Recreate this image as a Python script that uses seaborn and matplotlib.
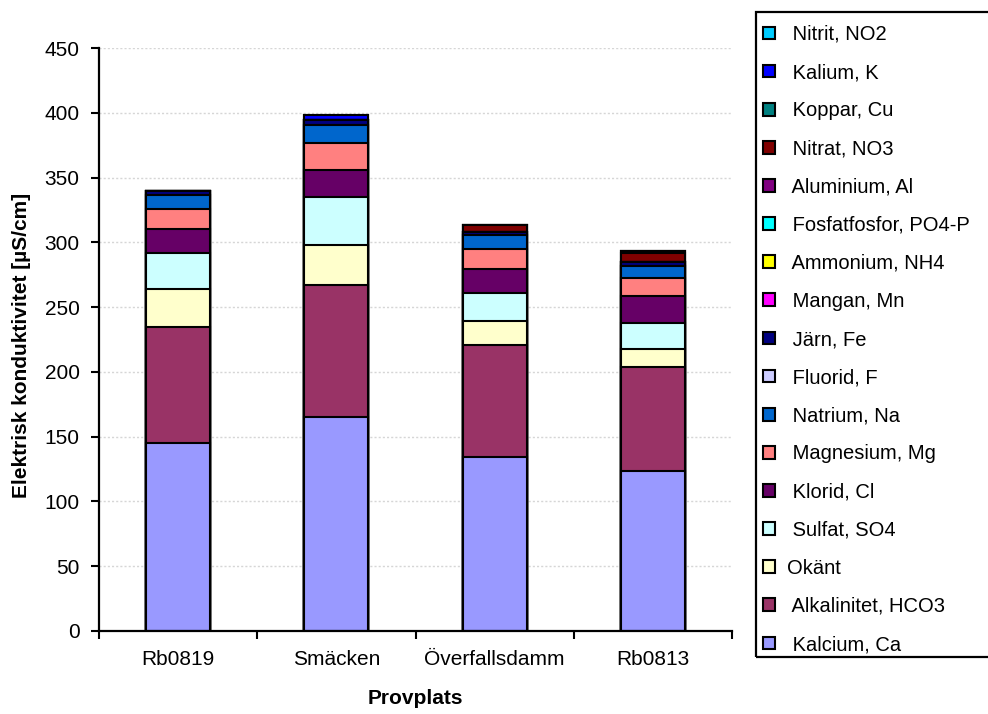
import matplotlib
matplotlib.use("Agg")
import matplotlib.pyplot as plt
from matplotlib.patches import Patch, Rectangle
import numpy as np
import pandas as pd
import seaborn as sns

# Sampling sites
sites = ["Rb0819", "Smäcken", "Överfallsdamm", "Rb0813"]

# Contribution of each component to the conductivity (µS/cm), per site
kalcium = [145.0, 165.0, 134.2, 123.6]
alkalinitet = [89.6, 102.2, 86.8, 80.1]
okant = [29.6, 30.9, 18.5, 13.9]
sulfat = [27.6, 36.9, 21.4, 20.1]
klorid = [18.8, 20.5, 18.8, 20.6]
magnesium = [15.4, 21.4, 15.4, 14.2]
natrium = [10.3, 13.4, 10.3, 9.5]
fluorid = [0.0, 0.0, 0.0, 0.0]
jarn = [3.5, 4.2, 2.3, 2.5]
mangan = [0.0, 0.0, 0.0, 0.0]
ammonium = [0.0, 0.0, 0.0, 0.0]
fosfatfosfor = [0.0, 0.0, 0.0, 0.0]
aluminium = [0.0, 0.0, 0.0, 0.0]
nitrat = [0.0, 0.0, 6.0, 7.3]
koppar = [0.0, 0.0, 0.0, 1.2]
kalium = [0.0, 4.0, 0.0, 0.0]
nitrit = [0.0, 0.0, 0.0, 0.0]

# Stack order, bottom first
components = [
    ("Kalcium, Ca", kalcium, "#9999FF"),
    ("Alkalinitet, HCO3", alkalinitet, "#993366"),
    ("Okänt", okant, "#FFFFCC"),
    ("Sulfat, SO4", sulfat, "#CCFFFF"),
    ("Klorid, Cl", klorid, "#660066"),
    ("Magnesium, Mg", magnesium, "#FF8080"),
    ("Natrium, Na", natrium, "#0066CC"),
    ("Fluorid, F", fluorid, "#CCCCFF"),
    ("Järn, Fe", jarn, "#000080"),
    ("Mangan, Mn", mangan, "#FF00FF"),
    ("Ammonium, NH4", ammonium, "#FFFF00"),
    ("Fosfatfosfor, PO4-P", fosfatfosfor, "#00FFFF"),
    ("Aluminium, Al", aluminium, "#800080"),
    ("Nitrat, NO3", nitrat, "#800000"),
    ("Koppar, Cu", koppar, "#008080"),
    ("Kalium, K", kalium, "#0000FF"),
    ("Nitrit, NO2", nitrit, "#00CCFF"),
]

rows = []
for name, vals, col in components:
    for s, v in zip(sites, vals):
        rows.append({"site": s, "component": name, "value": v})
df = pd.DataFrame(rows)
df["component"] = pd.Categorical(df["component"], [c[0] for c in components], ordered=True)
df["site"] = pd.Categorical(df["site"], sites, ordered=True)
df = df.sort_values(["site", "component"])
df["top"] = df.groupby("site", observed=True)["value"].cumsum()

sns.set_style("white")
plt.rcParams["font.family"] = ["Liberation Sans", "DejaVu Sans"]
plt.rcParams["text.color"] = "black"
plt.rcParams["axes.labelcolor"] = "black"
plt.rcParams["xtick.color"] = "black"
plt.rcParams["ytick.color"] = "black"

W, H = 988, 714
fig = plt.figure(figsize=(W / 100, H / 100), dpi=100)
ax = fig.add_axes([99 / W, (H - 631) / H, 633 / W, 583 / H])

# Cumulative bars drawn from the top component down, so each layer shows its own segment
for name, vals, col in reversed(components):
    sub = df[df["component"] == name]
    sns.barplot(data=sub, x="site", y="top", order=sites, color=col, saturation=1,
                width=0.405, edgecolor="black", linewidth=1.5, errorbar=None, ax=ax)

ax.set_xlim(-0.5, 3.5)
ax.set_ylim(0, 450)
ax.set_yticks(np.arange(0, 451, 50))
ax.set_xticks(range(len(sites)))
ax.set_xticklabels(sites)
ax.set_xticks(np.arange(-0.5, 3.6, 1.0), minor=True)
ax.tick_params(axis="x", which="major", length=0, pad=14, labelsize=15)
ax.tick_params(axis="x", which="minor", length=6, width=1.5, direction="out", color="black", bottom=True)
ax.tick_params(axis="y", which="major", length=6, width=1.5, direction="out", color="black",
               pad=8, labelsize=15, left=True)

ax.yaxis.grid(True, color="#d6d6d6", linestyle=(0, (1.5, 1.5)), linewidth=1)
ax.xaxis.grid(False)
ax.set_axisbelow(True)

for side in ["top", "right"]:
    ax.spines[side].set_visible(False)
for side in ["left", "bottom"]:
    ax.spines[side].set_color("black")
    ax.spines[side].set_linewidth(1.6)

ax.set_xlabel("Provplats", fontsize=15, fontweight="bold", labelpad=14)
ax.set_ylabel("Elektrisk konduktivitet [µS/cm]", fontsize=15, fontweight="bold")
ax.yaxis.set_label_coords(-0.108, 0.49)

# Legend, listed from the top of the stack downward
handles = []
for name, vals, col in reversed(components):
    label = name if name == "Okänt" else " " + name
    handles.append(Patch(facecolor=col, edgecolor="black", linewidth=1.5, label=label))

fig.legend(handles=handles, loc="upper left",
           bbox_to_anchor=(763 / W, 1 - 25 / H), frameon=False, fontsize=14.5,
           borderpad=0, borderaxespad=0, handlelength=0.6, handleheight=0.6,
           handletextpad=0.6, labelspacing=0.95)
fig.patches.append(Rectangle((756 / W, 1 - 657 / H), (1000 - 756) / W, (657 - 12) / H,
                             transform=fig.transFigure, fill=False, edgecolor="black",
                             linewidth=1.6))

fig.savefig("out.png", dpi=100)
